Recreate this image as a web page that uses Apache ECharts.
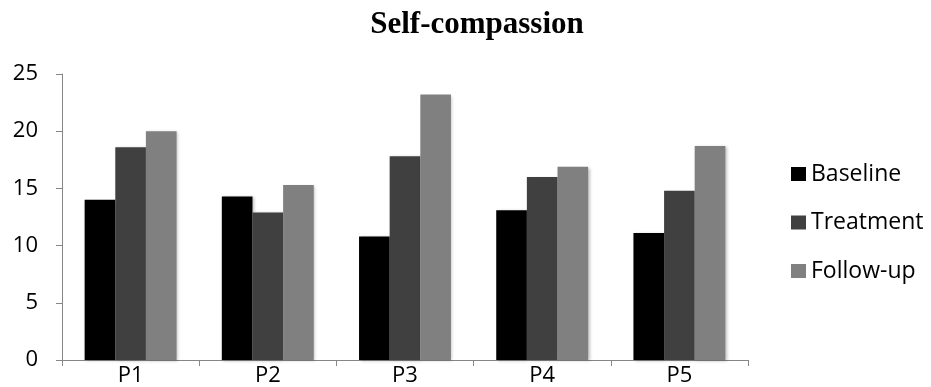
<!DOCTYPE html>
<html>
<head>
<meta charset="utf-8">
<script src="https://cdn.jsdelivr.net/npm/echarts@6/dist/echarts.min.js"></script>
<style>
  html, body { margin: 0; padding: 0; background: #fff; }
  #chart { width: 931px; height: 387px; }
</style>
</head>
<body>
<div id="chart"></div>
<script>
// Participants and phase scores
const participants = ['P1', 'P2', 'P3', 'P4', 'P5'];
const baseline  = [14.0, 14.3, 10.8, 13.1, 11.1];
const treatment = [18.6, 12.9, 17.8, 16.0, 14.8];
const followUp  = [20.0, 15.3, 23.2, 16.9, 18.7];
const phaseNames = ['Baseline', 'Treatment', 'Follow-up'];
const phaseColors = ['#000000', '#404040', '#808080'];

const labelFont = '"Open Sans", "Noto Sans", sans-serif';
const axisGrey = '#868686';

const phaseData = [baseline, treatment, followUp];

const chart = echarts.init(document.getElementById('chart'), null, { renderer: 'canvas' });

chart.setOption({
  animation: false,
  backgroundColor: '#ffffff',
  title: {
    text: 'Self-compassion',
    left: 472,
    textAlign: 'center',
    top: 4,
    textStyle: {
      fontFamily: '"Liberation Serif", "Times New Roman", serif',
      fontWeight: 'bold',
      fontSize: 31,
      color: '#000'
    }
  },
  legend: {
    orient: 'vertical',
    left: 786,
    top: 157,
    itemGap: 24.5,
    itemWidth: 15,
    itemHeight: 14,
    icon: 'rect',
    data: phaseNames,
    textStyle: {
      fontFamily: labelFont,
      fontSize: 23,
      lineHeight: 24,
      color: '#000'
    }
  },
  grid: {
    left: 62,
    top: 74,
    width: 686,
    height: 286,
    containLabel: false
  },
  xAxis: {
    type: 'category',
    data: participants,
    boundaryGap: true,
    axisLine: { show: true, lineStyle: { color: axisGrey, width: 1 } },
    axisTick: { show: true, length: 6, alignWithLabel: false, lineStyle: { color: axisGrey } },
    axisLabel: {
      margin: 5,
      fontFamily: labelFont,
      fontSize: 22,
      color: '#000'
    },
    splitLine: { show: false }
  },
  yAxis: {
    type: 'value',
    min: 0,
    max: 25,
    interval: 5,
    axisLine: { show: true, lineStyle: { color: axisGrey, width: 1 } },
    axisTick: { show: true, length: 6, inside: false, lineStyle: { color: axisGrey } },
    axisLabel: {
      margin: 24,
      fontFamily: labelFont,
      fontSize: 22,
      color: '#000'
    },
    splitLine: { show: false }
  },
  series: phaseNames.map((name, i) => ({
    name: name,
    type: 'bar',
    data: phaseData[i],
    barGap: '0%',
    barCategoryGap: '33%',
    itemStyle: {
      color: phaseColors[i],
      shadowColor: 'rgba(0,0,0,0.25)',
      shadowBlur: 3,
      shadowOffsetX: 1.5,
      shadowOffsetY: 1
    }
  }))
});
</script>
</body>
</html>
